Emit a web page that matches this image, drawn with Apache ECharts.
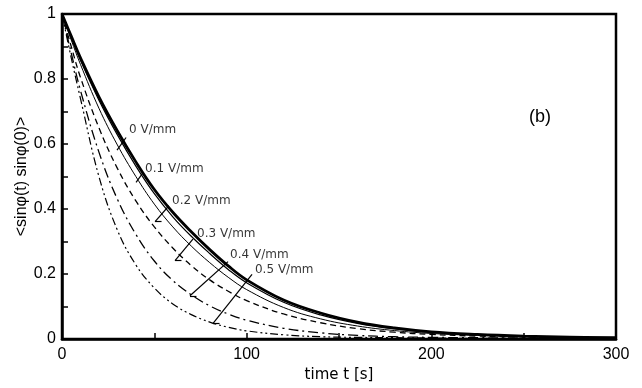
<!DOCTYPE html>
<html>
<head>
<meta charset="utf-8">
<script src="https://cdn.jsdelivr.net/npm/echarts@6/dist/echarts.min.js"></script>
<style>
html,body{margin:0;padding:0;background:#fff;}
#chart{width:642px;height:388px;}
</style>
</head>
<body>
<div id="chart"></div>
<script>
// time axis [s]
var times = [0, 5, 10, 20, 30, 40, 50, 60, 70, 80, 90, 100, 120, 140, 160, 180, 200, 225, 250, 275, 300];
// <sin phi(t) sin phi(0)> for each field
var v0 = [1, 0.932, 0.865, 0.745, 0.64, 0.545, 0.46, 0.39, 0.33, 0.275, 0.225, 0.182, 0.12, 0.08, 0.052, 0.034, 0.022, 0.014, 0.009, 0.006, 0.004];
var v1 = [1, 0.928, 0.858, 0.735, 0.628, 0.532, 0.447, 0.376, 0.316, 0.263, 0.214, 0.173, 0.113, 0.074, 0.048, 0.031, 0.02, 0.013, 0.008, 0.005, 0.004];
var v2 = [1, 0.92, 0.845, 0.71, 0.597, 0.5, 0.415, 0.345, 0.286, 0.235, 0.19, 0.152, 0.097, 0.062, 0.04, 0.026, 0.017, 0.011, 0.007, 0.005, 0.003];
var v3 = [1, 0.9, 0.805, 0.65, 0.525, 0.425, 0.345, 0.28, 0.226, 0.182, 0.147, 0.118, 0.077, 0.05, 0.032, 0.021, 0.014, 0.009, 0.006, 0.004, 0.003];
var v4 = [1, 0.88, 0.765, 0.575, 0.43, 0.322, 0.24, 0.18, 0.136, 0.102, 0.077, 0.058, 0.033, 0.019, 0.011, 0.007, 0.005, 0.004, 0.003, 0.002, 0.002];
var v5 = [1, 0.865, 0.74, 0.5, 0.335, 0.228, 0.157, 0.108, 0.075, 0.052, 0.036, 0.025, 0.013, 0.007, 0.005, 0.004, 0.003, 0.002, 0.002, 0.001, 0.001];
var fieldNames = ['0 V/mm', '0.1 V/mm', '0.2 V/mm', '0.3 V/mm', '0.4 V/mm', '0.5 V/mm'];
// label anchors [t, value]
var labelPos = [[36.3, 0.642], [45, 0.524], [59.6, 0.425], [73.1, 0.322], [91, 0.259], [104.5, 0.214]];
// pointer segments [t1, v1, t2, v2]
var pointers = [
  [34.7, 0.620, 29.8, 0.581],
  [43.9, 0.512, 40.1, 0.482],
  [57.9, 0.410, 50.4, 0.361],
  [70.9, 0.307, 61.2, 0.241],
  [89.9, 0.238, 69.3, 0.133],
  [102.9, 0.199, 81.8, 0.048]
];
var xTicks = [0, 100, 200, 300];
var yTicks = [0, 0.2, 0.4, 0.6, 0.8, 1];

var allValues = [v0, v1, v2, v3, v4, v5];
var dashes = ['solid', 'solid', 'solid', [6, 4], [10, 4, 2, 4], [8, 3, 2, 3, 2, 3]];
var widths = [2.8, 1.2, 1, 1.3, 1.3, 1.2];

function pairs(vals) {
  var out = [];
  for (var i = 0; i < times.length; i++) {
    out.push([times[i], vals[i]]);
  }
  return out;
}

var series = [];
for (var k = 0; k < allValues.length; k++) {
  series.push({
    name: fieldNames[k],
    type: 'line',
    data: pairs(allValues[k]),
    showSymbol: false,
    smooth: 0.4,
    lineStyle: {color: '#000', width: widths[k], type: dashes[k]},
    z: 3
  });
}

// pointer lines with small feet
var segs = [];
for (var p = 0; p < pointers.length; p++) {
  var s = pointers[p];
  segs.push([{coord: [s[0], s[1]]}, {coord: [s[2], s[3]]}]);
  if (p >= 2) {
    segs.push([{coord: [s[2], s[3]]}, {coord: [s[2] + 3.5, s[3]]}]);
  }
}
series.push({
  type: 'line',
  data: [],
  markLine: {
    silent: true,
    symbol: ['none', 'none'],
    label: {show: false},
    lineStyle: {color: '#000', width: 1.2, type: 'solid'},
    data: segs
  }
});

var labelData = [];
for (var j = 0; j < labelPos.length; j++) {
  labelData.push({value: labelPos[j], name: fieldNames[j]});
}
series.push({
  type: 'scatter',
  symbolSize: 0,
  data: labelData,
  label: {
    show: true,
    position: 'right',
    distance: 0,
    formatter: '{b}',
    color: '#000',
    fontSize: 12,
    fontFamily: 'DejaVu Sans'
  }
});

var chart = echarts.init(document.getElementById('chart'));
chart.setOption({
  animation: false,
  backgroundColor: '#fff',
  grid: {
    left: 62, right: 26, top: 14, bottom: 42,
    show: true, borderColor: '#000', borderWidth: 2.5
  },
  graphic: [{
    type: 'text', left: 529, top: 108,
    style: {text: '(b)', fontSize: 18, fontFamily: 'Liberation Sans', fill: '#000'}
  }],
  xAxis: {
    type: 'value',
    min: xTicks[0], max: xTicks[xTicks.length - 1], interval: 100,
    name: 'time t [s]', nameLocation: 'middle', nameGap: 29,
    nameTextStyle: {color: '#000', fontSize: 15, fontFamily: 'DejaVu Sans'},
    axisLine: {lineStyle: {color: '#000', width: 2.5}},
    axisTick: {inside: true, length: 6, lineStyle: {color: '#000', width: 1.5}},
    minorTick: {show: true, splitNumber: 2, length: 6, lineStyle: {color: '#000', width: 1.5}},
    axisLabel: {color: '#000', fontSize: 16, fontFamily: 'Liberation Sans', margin: 8},
    splitLine: {show: false}
  },
  yAxis: {
    type: 'value',
    min: yTicks[0], max: yTicks[yTicks.length - 1], interval: 0.2,
    name: '<sinφ(t) sinφ(0)>', nameLocation: 'middle', nameGap: 32,
    nameMoveOverlap: false,
    nameTextStyle: {color: '#000', fontSize: 16, fontFamily: 'Liberation Sans'},
    axisLine: {lineStyle: {color: '#000', width: 2.5}},
    axisTick: {inside: true, length: 6, lineStyle: {color: '#000', width: 1.5}},
    minorTick: {show: true, splitNumber: 2, length: 6, lineStyle: {color: '#000', width: 1.5}},
    axisLabel: {color: '#000', fontSize: 16, fontFamily: 'Liberation Sans', margin: 6},
    splitLine: {show: false}
  },
  series: series
});
</script>
</body>
</html>
